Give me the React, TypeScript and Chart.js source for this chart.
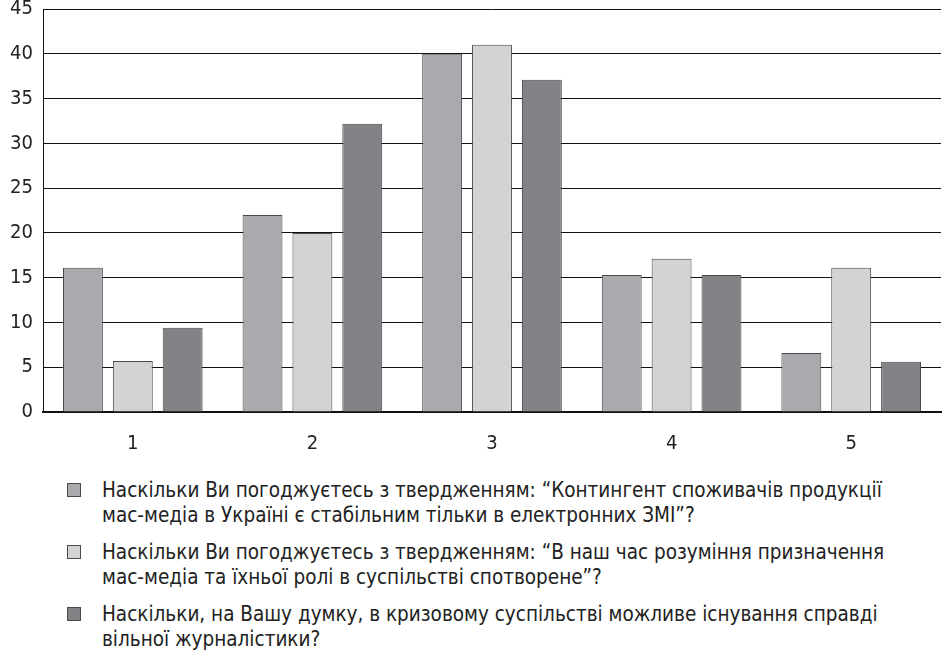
import React, { useEffect, useRef } from "react";
import { Chart, registerables } from "chart.js";

Chart.register(...registerables);

const categories = ["1", "2", "3", "4", "5"];
const series1 = [16.1, 22, 40, 15.3, 6.6];
const series2 = [5.7, 20, 41, 17.1, 16.1];
const series3 = [9.4, 32.2, 37.1, 15.3, 5.6];
const seriesLabels = [
  ["Наскільки Ви погоджуєтесь з твердженням: “Контингент споживачів продукції", "мас-медіа в Україні є стабільним тільки в електронних ЗМІ”?"],
  ["Наскільки Ви погоджуєтесь з твердженням: “В наш час розуміння призначення", "мас-медіа та їхньої ролі в суспільстві спотворене”?"],
  ["Наскільки, на Вашу думку, в кризовому суспільстві можливе існування справді", "вільної журналістики?"],
];
const colors = ["#a9aaad", "#d2d3d5", "#828387"];
const FONT = '"DejaVu Sans Condensed", "Liberation Sans Narrow", "DejaVu Sans", sans-serif';

export default function App() {
  const ref = useRef<HTMLCanvasElement>(null);
  useEffect(() => {
    const values = [series1, series2, series3];
    const chart = new Chart(ref.current!, {
      type: "bar",
      data: {
        labels: categories,
        datasets: values.map((v, i) => ({
          label: seriesLabels[i].join(" "),
          data: v,
          backgroundColor: colors[i],
          borderColor: "#4a4a4c",
          borderWidth: 1,
          categoryPercentage: 0.833,
          barPercentage: 0.8,
        })),
      },
      options: {
        responsive: false,
        animation: false,
        layout: { padding: { top: 9, right: 1, left: 0, bottom: 0 } },
        plugins: { legend: { display: false }, tooltip: { enabled: false } },
        scales: {
          x: {
            grid: { display: false },
            border: { display: true, color: "#111", width: 2 },
            ticks: { font: { family: FONT, size: 20 }, color: "#222", padding: 12 },
            afterFit: (s: any) => { s.height = 43; s.paddingLeft = 0; s.paddingRight = 0; },
          },
          y: {
            min: 0,
            max: 45,
            ticks: { stepSize: 5, font: { family: FONT, size: 20 }, color: "#222", padding: 10 },
            grid: { color: "#111", lineWidth: 1, drawTicks: false },
            border: { display: true, color: "#111", width: 1 },
            afterFit: (s: any) => { s.width = 43; s.paddingTop = 0; s.paddingBottom = 0; },
          },
        },
      },
    });
    return () => chart.destroy();
  }, []);

  return (
    <div style={{ position: "absolute", left: 0, top: 0, width: 942, height: 663, background: "#fff", fontFamily: FONT }}>
      <canvas ref={ref} width={942} height={455} style={{ display: "block" }} />
      <div style={{ position: "absolute", left: 0, top: 478 }}>
        {seriesLabels.map((lines, i) => (
          <div key={i} style={{ position: "relative", marginBottom: 12, height: 50 }}>
            <div style={{ position: "absolute", left: 67, top: 5, width: 12, height: 12, background: colors[i], border: "1px solid #4a4a4c" }} />
            <div style={{ position: "absolute", left: 102, top: 0, fontSize: 20.5, lineHeight: "25px", color: "#222", whiteSpace: "nowrap" }}>
              {lines.map((l, j) => (<div key={j}>{l}</div>))}
            </div>
          </div>
        ))}
      </div>
    </div>
  );
}
